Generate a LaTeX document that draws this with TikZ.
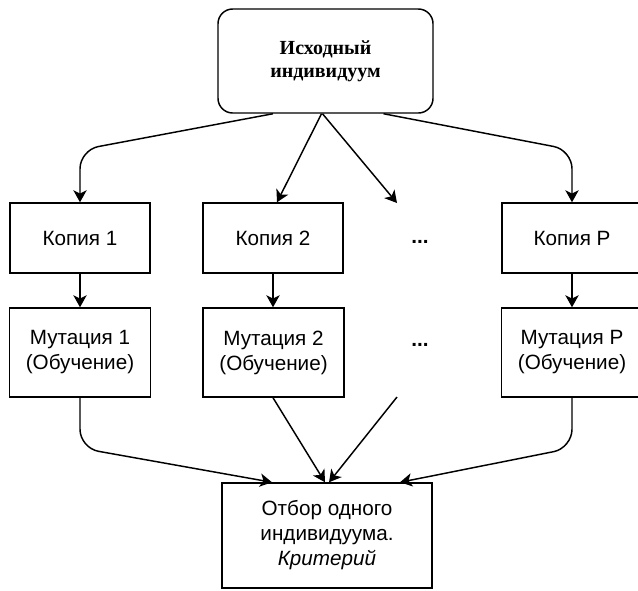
\documentclass[tikz,border=0pt]{standalone}
\usepackage{fontspec}
\setmainfont{Liberation Serif}
\newfontfamily\arialfnt{Liberation Sans}
\usetikzlibrary{arrows.meta,calc}

\tikzset{every picture/.style={line width=1.1pt}}
\tikzset{
	box/.style={draw, rectangle, align=center, inner sep=0pt, text=black,
		font=\arialfnt\fontsize{15.5}{18.75}\selectfont},
	copybox/.style={box, minimum width=105pt, minimum height=52.5pt},
	mutbox/.style={box, minimum width=105.75pt, minimum height=66.75pt},
	arr/.style={-{Stealth[length=9pt,width=10pt,inset=2.5pt]}},
	elbowarr/.style={arr, rounded corners=14pt}}

\begin{document}
\begin{tikzpicture}[x=0.75pt,y=0.75pt,yscale=-1,xscale=1]
	\useasboundingbox (0,0) rectangle (638,590);

	%Shape: Rounded Rectangle
	\node [draw, rounded corners=11pt, minimum width=161.25pt, minimum height=78pt, align=center,
		text=black, font=\bfseries\fontsize{15}{17.25}\selectfont] (src) at (325.5,61) {Исходный\\индивидуум};

	%Shape: Rectangle
	\node [copybox] (cp1) at (80,238) {Копия 1};
	\node [copybox] (cp2) at (273,238) {Копия 2};
	\node [copybox] (cpP) at (572,238) {Копия P};

	%Shape: Rectangle
	\node [mutbox] (mt1) at (80,352.5) {Мутация 1\\(Обучение)};
	\node [mutbox] (mt2) at (273.5,352.5) {Мутация 2\\(Обучение)};
	\node [mutbox] (mtP) at (572,352.5) {Мутация P\\(Обучение)};

	%Shape: Rectangle
	\node [box, minimum width=157.5pt, minimum height=78.75pt] (sel) at (327,535.5)
		{Отбор одного\\индивидуума.\\\textit{Критерий}};

	% Text Node
	\node [box, draw=none, font=\arialfnt\bfseries\fontsize{15.5}{18.75}\selectfont] (dots1) at (420,242) {...};
	% Text Node
	\node [box, draw=none, font=\arialfnt\bfseries\fontsize{15.5}{18.75}\selectfont] (dots2) at (420,345) {...};

	\coordinate (dtop) at (397,203);
	\coordinate (dbot) at (397,397);

	%Arrows from the source
	\draw [elbowarr] ($(src.south)+(-52.5,0)$) -- (80,150) -- (cp1.north);
	\draw [arr] ($(src.south)+(-4,0)$) -- ($(cp2.north)+(4,0)$);
	\draw [arr] ($(src.south)+(-3,0)$) -- (dtop);
	\draw [elbowarr] ($(src.south)+(58,0)$) -- (572,150) -- (cpP.north);

	%Copy to mutation
	\draw [arr] (cp1.south) -- (mt1.north);
	\draw [arr] (cp2.south) -- (cp2.south |- mt2.north);
	\draw [arr] (cpP.south) -- (mtP.north);

	%Arrows to the selection
	\draw [elbowarr] (mt1.south) -- (80,448) -- ($(sel.north)+(-55,0)$);
	\draw [arr] (cp2.south |- mt2.south) -- ($(sel.north)+(-2,0)$);
	\draw [arr] (dbot) -- ($(sel.north)+(2,0)$);
	\draw [elbowarr] (mtP.south) -- (572,448) -- ($(sel.north)+(73,0)$);

\end{tikzpicture}
\end{document}
